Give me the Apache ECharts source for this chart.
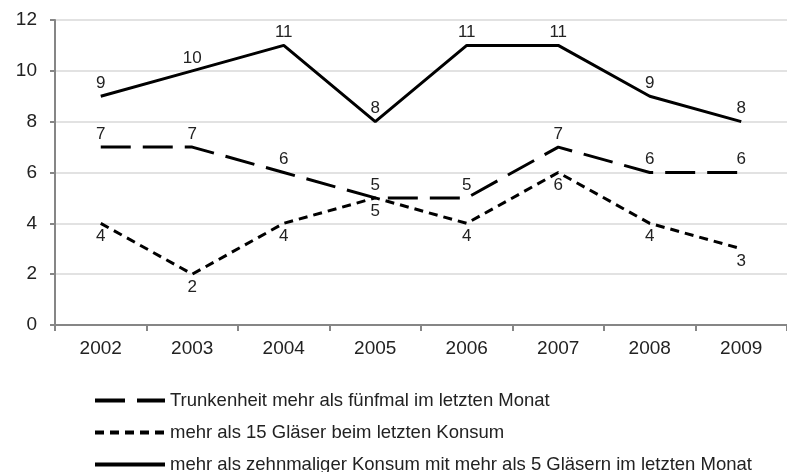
<!DOCTYPE html>
<html><head><meta charset="utf-8">
<script src="https://cdn.jsdelivr.net/npm/echarts@6/dist/echarts.min.js"></script>
<style>html,body{margin:0;padding:0;background:#fff}#c{width:787px;height:472px}</style>
</head><body><div id="c"></div>
<script>
const categories = ['2002','2003','2004','2005','2006','2007','2008','2009'];
const seriesNames = ['Trunkenheit mehr als fünfmal im letzten Monat','mehr als 15 Gläser beim letzten Konsum','mehr als zehnmaliger Konsum mit mehr als 5 Gläsern im letzten Monat'];
const trunkenheit = [7,7,6,5,5,7,6,6];
const glaeser = [4,2,4,5,4,6,4,3];
const zehnmalig = [9,10,11,8,11,11,9,8];
const yTicks = [0,2,4,6,8,10,12];

const chart = echarts.init(document.getElementById('c'));
const lbl = (pos) => ({show:true, position:pos, distance:4, color:'#222', fontSize:17, fontFamily:'Liberation Sans'});
const mk = (name, data, dash, pos) => ({
  name, type:'line', data, symbol:'circle', symbolSize:1, showSymbol:true,
  lineStyle:{color:'#000', width:3, type:dash, cap:'butt'},
  itemStyle:{color:'rgba(0,0,0,0)', borderWidth:0},
  emphasis:{disabled:true},
  label:lbl(pos)
});
const legendAt = (name, top) => ({
  orient:'horizontal', left:93, top:top, itemWidth:70, itemHeight:14, itemGap:0, padding:0,
  lineStyle:{width:4},
  textStyle:{fontFamily:'Liberation Sans', fontSize:18.5, color:'#222'},
  data:[name]
});
chart.setOption({
  animation:false,
  grid:{left:55, right:-10, top:20, bottom:147},
  legend:[legendAt(seriesNames[0], 391), legendAt(seriesNames[1], 423), legendAt(seriesNames[2], 455)],
  xAxis:{type:'category', data:categories, boundaryGap:true,
    axisLine:{lineStyle:{color:'#868686', width:2}},
    axisTick:{show:true, alignWithLabel:false, length:6, lineStyle:{color:'#868686', width:2}},
    axisLabel:{color:'#222', fontSize:19, fontFamily:'Liberation Sans', margin:14}},
  yAxis:{type:'value', min:yTicks[0], max:yTicks[yTicks.length-1], interval:2,
    axisLine:{show:true, lineStyle:{color:'#868686', width:2}},
    axisTick:{show:true, length:5, lineStyle:{color:'#868686', width:2}},
    splitLine:{lineStyle:{color:'#d9d9d9', width:1.5}},
    axisLabel:{color:'#222', fontSize:19, fontFamily:'Liberation Sans', margin:18}},
  series:[
    mk(seriesNames[0], trunkenheit, [30,12], 'top'),
    mk(seriesNames[1], glaeser, [9,6], 'bottom'),
    mk(seriesNames[2], zehnmalig, 'solid', 'top')
  ]
});
</script></body></html>
